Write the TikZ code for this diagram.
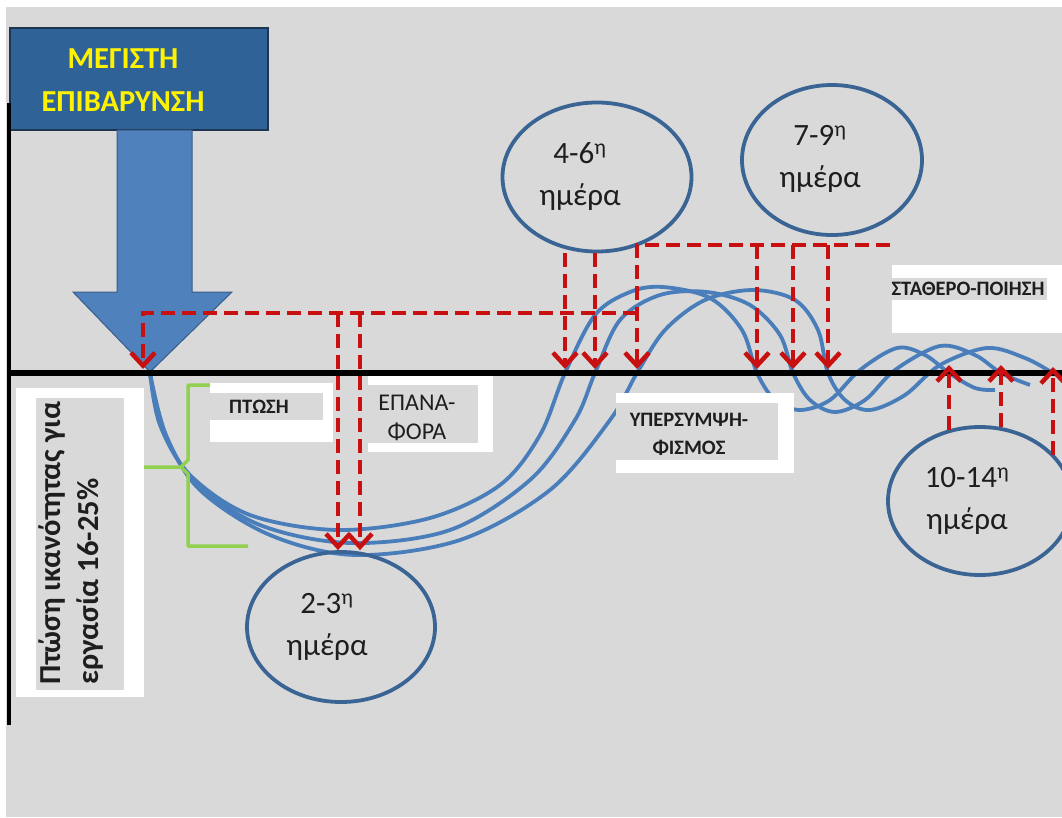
\documentclass[tikz,border=0pt]{standalone}
\usepackage{fontspec}
\setmainfont{Carlito}
\usetikzlibrary{shapes, arrows.meta, positioning, shapes.geometric, calc}

\definecolor{bggray}{RGB}{217,217,217}
\definecolor{titleblue}{RGB}{47,99,152}
\definecolor{titleedge}{RGB}{30,52,80}
\definecolor{arrowblue}{RGB}{79,129,189}
\definecolor{arrowedge}{RGB}{56,93,138}
\definecolor{dayblue}{RGB}{58,100,148}
\definecolor{waveblue}{RGB}{74,126,187}
\definecolor{redd}{RGB}{200,16,16}
\definecolor{bracegreen}{RGB}{146,208,80}
\definecolor{txtdark}{RGB}{30,30,30}

\begin{document}
\begin{tikzpicture}[x=1pt, y=-1pt]
            \tikzstyle{titlebox} = [draw=titleedge, line width=1.2pt, fill=titleblue, minimum width=258pt, minimum height=102pt, inner sep=0pt]
            \tikzstyle{titletext} = [text=yellow, font=\fontsize{30.5}{43}\selectfont\bfseries, align=center]
            \tikzstyle{bigarrow} = [draw=arrowedge, line width=1pt, fill=arrowblue]
            \tikzstyle{day} = [draw=dayblue, line width=3.8pt, ellipse, inner sep=0pt]
            \tikzstyle{daytext} = [text=txtdark, font=\fontsize{31}{42}\selectfont, align=center]
            \tikzstyle{tag} = [text=txtdark, font=\fontsize{20.5}{28}\selectfont\bfseries, align=center]
            \tikzstyle{tagbig} = [text=txtdark, font=\fontsize{24}{29}\selectfont, align=center]
            \tikzstyle{sidetext} = [text=txtdark, font=\fontsize{30.5}{38}\selectfont\bfseries, align=left, rotate=90]
            \tikzstyle{wave} = [draw=waveblue, line width=3.8pt]
            \tikzstyle{brace} = [draw=bracegreen, line width=3.5pt, line join=round]
            \tikzstyle{redline} = [draw=redd, line width=4.5pt, dash pattern=on 14pt off 7pt]
            \tikzstyle{redarrow} = [redline, -{Straight Barb[length=13pt, width=24pt]}]

            \fill[white] (0,0) rectangle (1062,817);
            \fill[bggray] (6,7) rectangle (1062,817);
            \useasboundingbox (0,0) rectangle (1062,817);

            \coordinate (o) at (8,373);
            \coordinate (xend) at (1062,373);
            \coordinate (ytop) at (9,103);
            \coordinate (ybot) at (9,725);

            \node[titlebox] (title) at (139,79) {};
            \node[titletext] (titletxt) at (123,80) {ΜΕΓΙΣΤΗ\\ΕΠΙΒΑΡΥΝΣΗ};
            \draw[bigarrow] (117,130) -- (192,130) -- (192,292) -- (232,292) -- (150,372) -- (73,292) -- (117,292) -- cycle;

            \draw[wave] plot[smooth, tension=0.55] coordinates {(150,373) (160,425) (190,475) (250,515) (338,530) (430,518) (500,485) (540,435) (565,373) (595,315) (630,292) (663,287) (710,298) (742,330) (757,373) (775,400) (800,410) (830,400) (860,370) (897,348) (925,355) (949,373) (975,388) (995,390)};
            \draw[wave] plot[smooth, tension=0.55] coordinates {(150,373) (163,430) (195,482) (260,525) (350,543) (450,530) (530,480) (575,420) (595,373) (620,320) (660,295) (707,292) (750,305) (780,335) (793,373) (810,400) (835,412) (865,400) (895,370) (940,346) (975,355) (1001,373) (1030,385)};
            \draw[wave] plot[smooth, tension=0.55] coordinates {(150,373) (166,435) (200,490) (270,535) (355,555) (460,540) (550,490) (610,420) (637,373) (665,330) (705,300) (753,290) (795,300) (818,330) (828,373) (845,400) (870,410) (905,395) (940,365) (987,348) (1025,358) (1053,373) (1062,378)};

            \draw[brace] (248,385) -| (188,460) -- (181,467) -- (144,467) (181,467) -- (188,474) |- (248,546);

            \fill[white] (16,388) rectangle (144,697);
            \fill[bggray] (36,398) rectangle (124,690);
            \node[sidetext] (dropnote) at (71,543) {Πτώση ικανότητας για\\εργασία 16-25\%};

            \fill[white] (210,383) rectangle (333,442);
            \fill[bggray] (210,393) rectangle (323,420);
            \node[tag] (drop) at (259,407) {ΠΤΩΣΗ};

            \fill[white] (368,375) rectangle (493,452);
            \fill[bggray] (368,385) rectangle (478,443);
            \node[tagbig] (recover) at (417,418) {ΕΠΑΝΑ-\\ΦΟΡΑ};

            \fill[white] (616,393) rectangle (794,473);
            \fill[bggray] (616,403) rectangle (778,460);
            \node[tag] (supercomp) at (689,434) {ΥΠΕΡΣΥΜΨΗ-\\ΦΙΣΜΟΣ};

            \fill[white] (892,265) rectangle (1062,333);
            \fill[bggray] (892,278) rectangle (1047,300);
            \node[tag] (stable) at (968,289) {ΣΤΑΘΕΡΟ-ΠΟΙΗΣΗ};

            \draw[line width=6pt] (o) -- (xend);
            \draw[line width=3.5pt] (ytop) -- (ybot);

            \node[day, minimum width=188pt, minimum height=150pt] (d23) at (341,627) {};
            \node[daytext] (d23t) at (327,627) {2-3\textsuperscript{η}\\ημέρα};
            \node[day, minimum width=189pt, minimum height=149pt] (d46) at (597,177) {};
            \node[daytext] (d46t) at (580,177) {4-6\textsuperscript{η}\\ημέρα};
            \node[day, minimum width=180pt, minimum height=150pt] (d79) at (832,160) {};
            \node[daytext] (d79t) at (820,159) {7-9\textsuperscript{η}\\ημέρα};
            \node[day, minimum width=184pt, minimum height=148pt] (d1014) at (980,501) {};
            \node[daytext] (d1014t) at (967,501) {10-14\textsuperscript{η}\\ημέρα};

            \coordinate (k0) at (143,313);
            \coordinate (k1) at (637,313);
            \coordinate (m0) at (637,245);
            \coordinate (m1) at (890,245);
            \coordinate (b1) at (338,313);
            \coordinate (b2) at (360,313);
            \coordinate (a0) at (143,369);
            \coordinate (a1) at (565,369);
            \coordinate (a2) at (595,369);
            \coordinate (a3) at (637,369);
            \coordinate (a4) at (757,369);
            \coordinate (a5) at (793,369);
            \coordinate (a6) at (828,369);
            \coordinate (u1) at (949,365);
            \coordinate (u2) at (1001,365);
            \coordinate (u3) at (1053,367);

            \draw[redarrow] (k1) -- (k0) -- (a0);
            \draw[redarrow] (b1) -- (b1 |- d23.north);
            \draw[redarrow] (b2) -- (b2 |- d23.north);
            \draw[redarrow] (a1 |- d46.south) -- (a1);
            \draw[redarrow] (a2 |- d46.south) -- (a2);
            \draw[redarrow] (m1) -- (m0) -- (a3);
            \draw[redarrow] (a4 |- m0) -- (a4);
            \draw[redarrow] (a5 |- m0) -- (a5);
            \draw[redarrow] (a6 |- m0) -- (a6);
            \draw[redarrow] (u1 |- d1014.114) -- (u1);
            \draw[redarrow] (u2 |- d1014.74) -- (u2);
            \draw[redarrow] (u3 |- d1014.32) -- (u3);
        \end{tikzpicture}
\end{document}
